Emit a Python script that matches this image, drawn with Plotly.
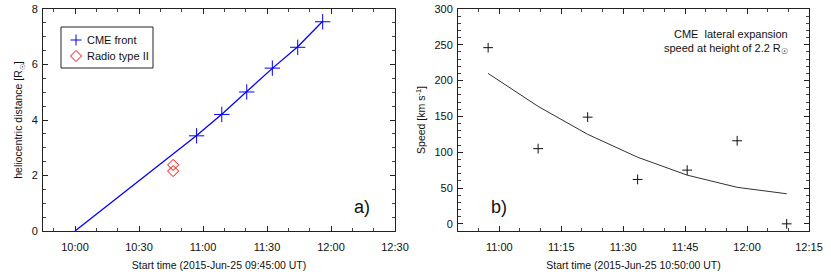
import plotly.graph_objects as go

DAY = "2015-06-25 "

# ---- panel a data ----
cme_times = ["10:57:00", "11:08:48", "11:20:30", "11:32:30", "11:44:24", "11:56:06"]
cme_dist = [3.43, 4.20, 5.01, 5.87, 6.62, 7.54]
fit_times = ["10:00:00", "10:20:00", "10:40:00", "10:57:00", "11:08:48", "11:20:30",
             "11:32:30", "11:44:24", "11:56:06"]
fit_dist = [0.0, 1.20, 2.42, 3.44, 4.21, 5.02, 5.86, 6.64, 7.56]
radio_times = ["10:46:00", "10:46:00"]
radio_dist = [2.38, 2.16]

# ---- panel b data ----
speed_times = ["10:57:18", "11:09:24", "11:21:24", "11:33:30", "11:45:30", "11:57:36", "12:09:36"]
speed_vals = [246, 105, 149, 62, 75, 116, 0]
speed_fit_times = ["10:57:18", "11:09:24", "11:21:24", "11:33:30", "11:45:30", "11:57:36", "12:09:36"]
speed_fit = [210, 164, 125, 93, 68, 51, 42]

legend_labels = ["CME front", "Radio type II"]


def d(ts):
    return [DAY + t for t in ts]


FONT = "Liberation Sans, Arial, Helvetica, sans-serif"
BLUE = "#0000ff"
RED = "#ff0000"
INK = "#111111"

W, H = 831, 277
PL, PR, PT, PB = 43, 809, 9, 231          # plot region in page pixels
PW, PH = PR - PL, PB - PT


def px(x):
    return (x - PL) / PW


def py(y):
    return 1 - (y - PT) / PH


fig = go.Figure()
fig.add_trace(go.Scatter(x=d(fit_times), y=fit_dist, mode="lines",
                         line=dict(color=BLUE, width=1.3), showlegend=False,
                         xaxis="x", yaxis="y"))
fig.add_trace(go.Scatter(x=d(cme_times), y=cme_dist, mode="markers", name=legend_labels[0],
                         marker=dict(symbol="cross-thin-open", size=11, color=BLUE,
                                     line=dict(color=BLUE, width=1)),
                         xaxis="x", yaxis="y"))
fig.add_trace(go.Scatter(x=d(radio_times), y=radio_dist, mode="markers", name=legend_labels[1],
                         marker=dict(symbol="diamond-open", size=8.5, color=RED,
                                     line=dict(color=RED, width=1)),
                         xaxis="x", yaxis="y"))

fig.add_trace(go.Scatter(x=d(speed_fit_times), y=speed_fit, mode="lines",
                         line=dict(color="#333333", width=1), showlegend=False,
                         xaxis="x2", yaxis="y2"))
fig.add_trace(go.Scatter(x=d(speed_times), y=speed_vals, mode="markers", showlegend=False,
                         marker=dict(symbol="cross-thin-open", size=7, color=INK,
                                     line=dict(color=INK, width=1)),
                         xaxis="x2", yaxis="y2"))

axis_common = dict(showgrid=False, zeroline=False, showline=True, linecolor="#222",
                   linewidth=1, mirror="ticks", ticks="inside", ticklen=5,
                   tickcolor="#222", tickfont=dict(family=FONT, size=11, color=INK),
                   automargin=False)
minor_common = dict(ticks="inside", ticklen=3, tickcolor="#444", showgrid=False)
title_font = dict(family=FONT, size=10.5, color=INK)

fig.update_layout(
    width=W, height=H,
    margin=dict(l=PL, r=W - PR, t=PT, b=H - PB),
    paper_bgcolor="white", plot_bgcolor="white",
    font=dict(family=FONT, size=11, color=INK),
    showlegend=False,
    xaxis=dict(axis_common, domain=[px(43), px(395)], anchor="y", type="date",
               range=[DAY + "09:45", DAY + "12:30"], tick0=DAY + "10:00",
               dtick=1800000, tickformat="%H:%M", ticklabelstandoff=6,
               minor=dict(minor_common, dtick=600000),
               title=dict(text="Start time (2015-Jun-25 09:45:00 UT)",
                          font=title_font, standoff=9)),
    yaxis=dict(axis_common, domain=[0, 1], anchor="x", range=[0, 8], dtick=2,
               minor=dict(minor_common, dtick=0.5), ticklabelstandoff=2,
               title=dict(text="heliocentric distance [R<sub>☉</sub>]",
                          font=title_font, standoff=6)),
    xaxis2=dict(axis_common, domain=[px(458), px(809)], anchor="y2", type="date",
                range=[DAY + "10:50", DAY + "12:15"], tick0=DAY + "11:00",
                dtick=900000, tickformat="%H:%M", ticklabelstandoff=6,
                minor=dict(minor_common, dtick=300000),
                title=dict(text="Start time (2015-Jun-25 10:50:00 UT)",
                           font=title_font, standoff=9)),
    yaxis2=dict(axis_common, domain=[0, 1], anchor="x2", range=[-10, 300], dtick=50,
                minor=dict(minor_common, dtick=10), ticklabelstandoff=2,
                title=dict(text="Speed [km s<sup>-1</sup>]",
                           font=title_font, standoff=6)),
)

# ---- legend box (panel a) ----
fig.add_shape(type="rect", xref="paper", yref="paper",
              x0=px(61), x1=px(153), y0=py(68), y1=py(27),
              line=dict(color="#222", width=1), fillcolor="white", layer="above")
fig.add_shape(type="line", xref="paper", yref="paper", x0=px(70.5), x1=px(81.5),
              y0=py(40), y1=py(40), line=dict(color=BLUE, width=1))
fig.add_shape(type="line", xref="paper", yref="paper", x0=px(76), x1=px(76),
              y0=py(34.5), y1=py(45.5), line=dict(color=BLUE, width=1))
fig.add_shape(type="path", xref="paper", yref="paper",
              path="M {a},{b} L {c},{e} L {a},{f} L {g},{e} Z".format(
                  a=px(76), b=py(50.5), c=px(81.5), e=py(56), f=py(61.5), g=px(70.5)),
              line=dict(color=RED, width=1))
fig.add_annotation(xref="paper", yref="paper", x=px(85), y=py(40), text=legend_labels[0],
                   showarrow=False, xanchor="left", yanchor="middle",
                   font=dict(family=FONT, size=11, color=INK))
fig.add_annotation(xref="paper", yref="paper", x=px(85), y=py(56), text=legend_labels[1],
                   showarrow=False, xanchor="left", yanchor="middle",
                   font=dict(family=FONT, size=11, color=INK))

# ---- panel labels and note ----
fig.add_annotation(xref="paper", yref="paper", x=px(362), y=py(207), text="a)",
                   showarrow=False, font=dict(family=FONT, size=18, color=INK),
                   xanchor="center", yanchor="middle")
fig.add_annotation(xref="paper", yref="paper", x=px(499), y=py(207), text="b)",
                   showarrow=False, font=dict(family=FONT, size=18, color=INK),
                   xanchor="center", yanchor="middle")
fig.add_annotation(xref="paper", yref="paper", x=px(790), y=py(34),
                   text="CME\u00a0 lateral expansion", showarrow=False,
                   font=dict(family=FONT, size=11, color=INK),
                   xanchor="right", yanchor="middle")
fig.add_annotation(xref="paper", yref="paper", x=px(790), y=py(49),
                   text="speed at height of 2.2 R<sub>☉</sub>", showarrow=False,
                   font=dict(family=FONT, size=11, color=INK),
                   xanchor="right", yanchor="middle")

# remove the browser's default 8px body margin so the figure sits at the page origin
fig.write_html("out.html", config={"displayModeBar": False},
               post_script="document.body.style.margin='0px';")
